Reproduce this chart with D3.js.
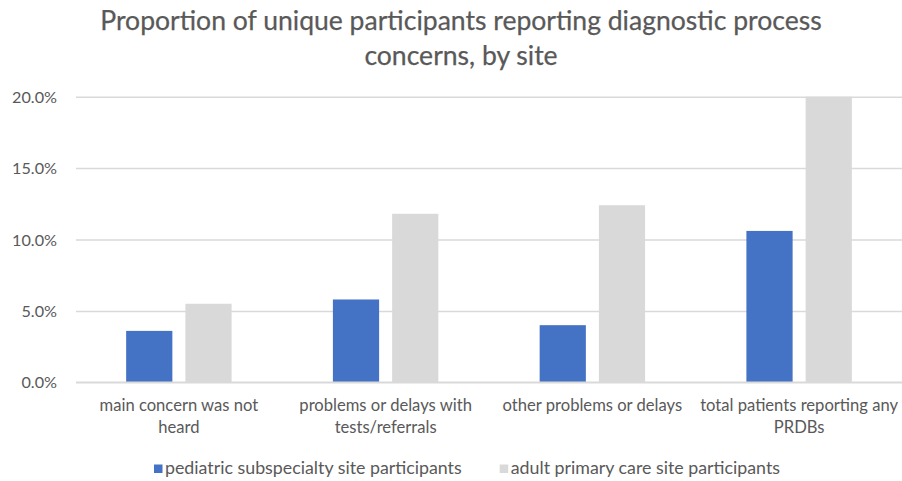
<!DOCTYPE html>
<html><head><meta charset="utf-8">
<script src="https://cdn.jsdelivr.net/npm/d3@7"></script>
<style>body{margin:0;background:#fff}svg{display:block}</style>
</head><body><svg id="c" width="902" height="481"></svg>
<script>
const titleLines = ["Proportion of unique participants reporting diagnostic process", "concerns, by site"];
const categories = ["main concern was not\nheard", "problems or delays with\ntests/referrals", "other problems or delays", "total patients reporting any\nPRDBs"];
const seriesNames = ["pediatric subspecialty site participants", "adult primary care site participants"];
const pediatric = [0.036, 0.058, 0.040, 0.106];
const adultPrimary = [0.055, 0.118, 0.124, 0.200];
const yTicks = [0, 0.05, 0.10, 0.15, 0.20];
const colors = ["#4472C4", "#D9D9D9"];

const series = [pediatric, adultPrimary];
const FONT = "Lato, 'Open Sans', sans-serif";
const TXT = "#595959";
const svg = d3.select("#c");

const y = d3.scaleLinear().domain([0, 0.2]).range([382.3, 96.7]);
const x0 = d3.scaleBand().domain(categories).range([75.5, 902.5]).paddingInner(0.49).paddingOuter(0.245);
const x1 = d3.scaleBand().domain([0, 1]).range([0, x0.bandwidth()]).paddingInner(0.22);

function fitSize(text, target, base) {
  const t = svg.append("text").attr("font-family", FONT).attr("font-size", base).text(text);
  const w = t.node().getComputedTextLength();
  t.remove();
  return base * target / w;
}
const titleSize = fitSize(titleLines[0], 722, 24);
const labelSize = Math.min(fitSize("other problems or delays", 190, 15), fitSize("total patients reporting any", 198, 15));
const legendSize = fitSize(seriesNames[0], 297, 15);
const tickSize = fitSize("20.0%", 45, 15);

// title
svg.append("g").selectAll("text").data(titleLines).join("text")
  .attr("x", 461).attr("y", (d, i) => 30 + i * 35)
  .attr("text-anchor", "middle").attr("font-family", FONT).attr("font-size", titleSize)
  .attr("fill", TXT).attr("stroke", TXT).attr("stroke-width", 0.25).text(d => d);

// gridlines via axis
const yAxis = d3.axisLeft(y).tickValues(yTicks).tickFormat(d3.format(".1%")).tickSize(-(902 - 76)).tickPadding(19);
const ga = svg.append("g").attr("transform", "translate(76,0)").call(yAxis);
ga.select(".domain").remove();
ga.selectAll(".tick line").attr("stroke", "#D9D9D9").attr("stroke-width", 1.5);
ga.selectAll(".tick text").attr("font-family", FONT).attr("font-size", tickSize).attr("fill", TXT).attr("dy", "0.35em");

// bars
const groups = svg.append("g").selectAll("g").data(categories).join("g")
  .attr("transform", d => `translate(${x0(d)},0)`);
groups.selectAll("rect").data((d, i) => series.map((s, k) => ({k, v: s[i]}))).join("rect")
  .attr("x", d => x1(d.k)).attr("width", x1.bandwidth())
  .attr("y", d => y(d.v)).attr("height", d => y(0) - y(d.v))
  .attr("fill", d => colors[d.k]);

// baseline on top
svg.append("line").attr("x1", 76).attr("x2", 902).attr("y1", y(0)).attr("y2", y(0))
  .attr("stroke", "#D9D9D9").attr("stroke-width", 1.5);

// category labels
const xAxis = d3.axisBottom(x0).tickSize(0).tickFormat("");
const gx = svg.append("g").attr("transform", `translate(0,${y(0)})`).call(xAxis);
gx.select(".domain").remove();
gx.selectAll(".tick").each(function(d) {
  const lines = d.split("\n");
  const t = d3.select(this).append("text").attr("text-anchor", "middle")
    .attr("font-family", FONT).attr("font-size", labelSize).attr("fill", TXT);
  lines.forEach((ln, i) => t.append("tspan").attr("x", 0).attr("y", 28.5 + i * 22.5).text(ln));
});

// legend
const leg = svg.append("g");
let lx = 154;
seriesNames.forEach((name, k) => {
  leg.append("rect").attr("x", lx).attr("y", 464.5).attr("width", 8.5).attr("height", 8.5).attr("fill", colors[k]);
  const t = leg.append("text").attr("x", lx + 11).attr("y", 473.5)
    .attr("font-family", FONT).attr("font-size", legendSize).attr("fill", TXT).text(name);
  lx = lx + 11 + t.node().getComputedTextLength() + 38;
});
</script></body></html>
